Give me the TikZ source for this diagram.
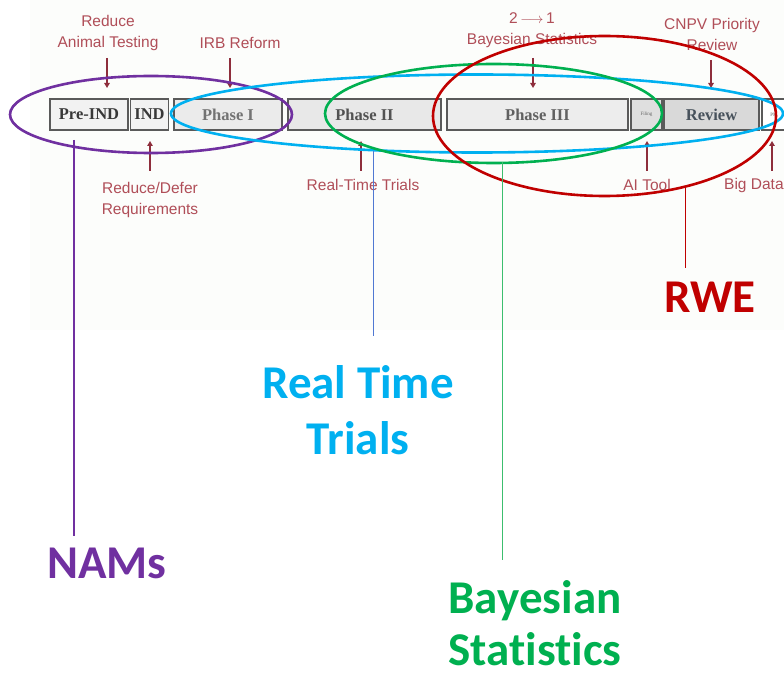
\documentclass[tikz,border=0pt]{standalone}
\usepackage{fontspec}
\usetikzlibrary{arrows.meta,shapes.geometric}
\newfontfamily\labfont{Liberation Sans}
\newfontfamily\calfont[Ligatures=NoCommon]{Carlito}
\newfontfamily\serfont{Liberation Serif}
\definecolor{labred}{HTML}{B04E58}
\definecolor{arrred}{HTML}{8E2E3C}
\definecolor{nampurple}{HTML}{7030A0}
\definecolor{rtblue}{HTML}{00B0F0}
\definecolor{bsgreen}{HTML}{00B050}
\definecolor{rwered}{HTML}{C00000}
\definecolor{boxedge}{HTML}{5A5A5A}
\definecolor{paper}{HTML}{FCFDFB}
\definecolor{reviewtext}{HTML}{48525C}
\definecolor{rtline}{HTML}{5078D2}
\definecolor{bsline}{HTML}{3CBE6E}
\begin{document}
\begin{tikzpicture}[x=1pt,y=-1pt,
  stagebox/.style={draw=boxedge,line width=1.1pt,minimum height=31pt,inner sep=0pt,
    font=\serfont\bfseries\fontsize{16.5}{18}\selectfont},
  tinybox/.style={stagebox,font=\serfont\fontsize{5}{6}\selectfont},
  note/.style={text=labred,font=\labfont\fontsize{15.5}{21}\selectfont,align=center,inner sep=0pt},
  arr/.style={draw=arrred,line width=1.5pt,-{Triangle[length=5pt,width=5.5pt]}},
  ring/.style={ellipse,draw,line width=2.6pt,inner sep=0pt},
  callout/.style={font=\calfont\bfseries\fontsize{47}{56}\selectfont,inner sep=0pt},
]
\clip (0,0) rectangle (784,676);
\fill[white] (0,0) rectangle (784,676);
\fill[paper] (30,0) rectangle (784,330);

% development stages
\node[stagebox,fill=gray!10,text=black!78,minimum width=78pt] (preind) at (89,114.5) {Pre-IND};
\node[stagebox,fill=gray!10,text=black!78,minimum width=38pt] (ind) at (149.5,114.5) {IND};
\node[stagebox,fill=gray!16,text=black!55,minimum width=108pt] (ph1) at (228,114.5) {Phase I};
\node[stagebox,fill=gray!18,text=black!68,minimum width=153pt] (ph2) at (364.5,114.5) {Phase II};
\node[stagebox,fill=gray!14,text=black!62,minimum width=181pt] (ph3) at (537.5,114.5) {Phase III};
\node[tinybox,fill=gray!25,text=black!60,minimum width=31pt] (filing) at (646.5,114.5) {Filing};
\node[stagebox,fill=gray!30,text=reviewtext,minimum width=95pt] (review) at (711.5,114.5) {Review};
\node[tinybox,fill=white,text=black!60,minimum width=38pt,align=left] (post) at (781,114.5) {PM\hspace{14pt}};

% reform notes above the stages
\node[note] (animal) at (108,33) {Reduce\\Animal Testing};
\node[note] (irb) at (240,43) {IRB Reform};
\node[note] (bayes) at (532,30) {2\,$\longrightarrow$\,1\\Bayesian Statistics};
\node[note] (cnpv) at (712,34) {CNPV Priority\\Review};
\coordinate (a1) at (107,88);
\coordinate (a2) at (230,88);
\coordinate (a3) at (533,88);
\coordinate (a4) at (711,88);
\draw[arr] (a1 |- 0,58) -- (a1);
\draw[arr] (a2 |- 0,58) -- (a2);
\draw[arr] (a3 |- 0,58) -- (a3);
\draw[arr] (a4 |- 0,60) -- (a4);

% reform notes below the stages
\node[note] (defer) at (150,199.5) {Reduce/Defer\\Requirements};
\node[note] (rtt) at (363,185) {Real-Time Trials};
\node[note] (ai) at (647,185) {AI Tool};
\node[note,anchor=west] (bigdata) at (724,185) {Big Data};
\coordinate (b1) at (150,141);
\coordinate (b2) at (361,141);
\coordinate (b3) at (647,141);
\coordinate (b4) at (772,141);
\draw[arr] (b1 |- 0,171) -- (b1);
\draw[arr] (b2 |- 0,171) -- (b2);
\draw[arr] (b3 |- 0,171) -- (b3);
\draw[arr] (b4 |- 0,171) -- (b4);

% groupings
\node[ring,draw=nampurple,minimum width=282pt,minimum height=77pt] (namring) at (151,114.5) {};
\node[ring,draw=rtblue,minimum width=612pt,minimum height=78pt] (rtring) at (477,113.5) {};
\node[ring,draw=bsgreen,minimum width=337pt,minimum height=99pt] (bsring) at (493.5,113.5) {};
\node[ring,draw=rwered,minimum width=343pt,minimum height=160pt] (rwering) at (604.5,116) {};

% callouts
\node[callout,text=nampurple] (nams) at (107,563) {NAMs};
\node[callout,text=rtblue,align=center] (rtlab) at (358,410) {Real Time\\Trials};
\node[callout,text=bsgreen,anchor=base] (bslab) at (535,613) {Bayesian};
\node[callout,text=bsgreen,anchor=base] (bslabb) at (535,665) {Statistics};
\node[callout,text=rwered] (rwelab) at (710,297) {RWE};

\coordinate (namfoot) at (74,140);
\coordinate (rtfoot) at (373,151);
\coordinate (bsfoot) at (502,162);
\coordinate (rwefoot) at (685,186);
\draw[nampurple,line width=1.3pt] (namfoot) -- (namfoot |- 0,536);
\draw[rtline,line width=1pt] (rtfoot) -- (rtfoot |- 0,336);
\draw[bsline,line width=1pt] (bsfoot) -- (bsfoot |- 0,560);
\draw[rwered,line width=1pt] (rwefoot) -- (rwefoot |- 0,268);
\end{tikzpicture}
\end{document}
